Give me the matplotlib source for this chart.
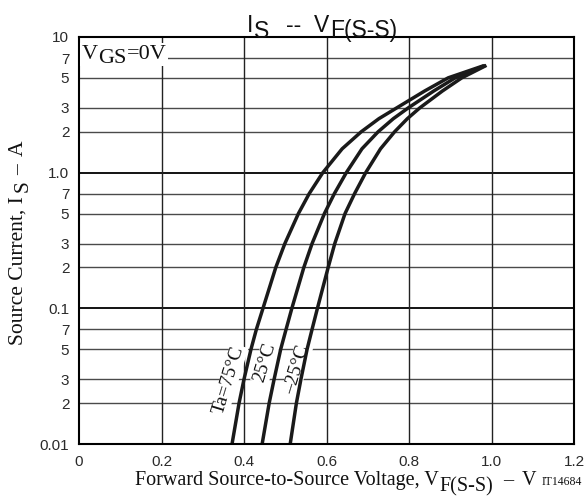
import matplotlib
matplotlib.use("Agg")
import matplotlib.pyplot as plt

# ---------------- data ----------------
v_75 = [0.371, 0.388, 0.400, 0.417, 0.430, 0.446, 0.477, 0.499, 0.532, 0.558, 0.591, 0.638, 0.684, 0.727, 0.770, 0.838, 0.895, 0.978]
i_75 = [0.01, 0.02, 0.03, 0.05, 0.07, 0.1, 0.2, 0.3, 0.5, 0.7, 1.0, 1.5, 2.0, 2.5, 3.0, 4.0, 5.0, 6.1]

v_25 = [0.444, 0.461, 0.473, 0.489, 0.502, 0.516, 0.545, 0.565, 0.595, 0.619, 0.648, 0.686, 0.725, 0.762, 0.798, 0.860, 0.912, 0.981]
i_25 = [0.01, 0.02, 0.03, 0.05, 0.07, 0.1, 0.2, 0.3, 0.5, 0.7, 1.0, 1.5, 2.0, 2.5, 3.0, 4.0, 5.0, 6.1]

v_m25 = [0.512, 0.527, 0.538, 0.553, 0.565, 0.578, 0.604, 0.620, 0.645, 0.668, 0.695, 0.731, 0.765, 0.796, 0.826, 0.881, 0.928, 0.984]
i_m25 = [0.01, 0.02, 0.03, 0.05, 0.07, 0.1, 0.2, 0.3, 0.5, 0.7, 1.0, 1.5, 2.0, 2.5, 3.0, 4.0, 5.0, 6.1]

curve_labels = ["Ta=75°C", "25°C", "\u201325°C"]
label_pos_v = [0.364, 0.451, 0.528]
label_pos_i = [0.0297, 0.0396, 0.0351]

x_ticks = [0, 0.2, 0.4, 0.6, 0.8, 1.0, 1.2]
x_tick_labels = ["0", "0.2", "0.4", "0.6", "0.8", "1.0", "1.2"]
y_ticks = [0.01, 0.02, 0.03, 0.05, 0.07, 0.1, 0.2, 0.3, 0.5, 0.7, 1, 2, 3, 5, 7, 10]
y_tick_labels = ["0.01", "2", "3", "5", "7", "0.1", "2", "3", "5", "7", "1.0", "2", "3", "5", "7", "10"]

# ---------------- figure ----------------
W, H = 584, 499
fig = plt.figure(figsize=(W / 100, H / 100), dpi=100)
L, R, T, B = 79, 574, 37, 444
ax = fig.add_axes([L / W, 1 - B / H, (R - L) / W, (B - T) / H])
ax.set_xlim(0, 1.2)
ax.set_yscale("log")
ax.set_ylim(0.01, 10)

sans = "Liberation Sans"
serif = "Liberation Serif"
ink = "#111111"

ax.set_xticks(x_ticks, x_tick_labels)
ax.set_yticks(y_ticks, y_tick_labels)
ax.minorticks_off()
ax.tick_params(axis="both", length=0, labelsize=11, labelcolor="#2a2a2a")
ax.tick_params(axis="x", pad=8)
ax.tick_params(axis="y", pad=7)
for lab in ax.get_xticklabels() + ax.get_yticklabels():
    lab.set_fontfamily(sans)

# grid lines
for yv in y_ticks[1:-1]:
    major = yv in (0.1, 1)
    ax.axhline(yv, color="black" if major else "#4a4a4a", lw=1.3 if major else 1.0, zorder=1)
for xv in x_ticks[1:-1]:
    ax.axvline(xv, color="#222222", lw=1.0, zorder=1)

for sp in ax.spines.values():
    sp.set_linewidth(1.5)
    sp.set_color("black")
    sp.set_zorder(5)

# curves
for v, i in [(v_75, i_75), (v_25, i_25), (v_m25, i_m25)]:
    ax.plot(v, i, color="#1a1a1a", lw=2.5, solid_joinstyle="round", zorder=4)

# curve labels
for txt, xv, yv in zip(curve_labels, label_pos_v, label_pos_i):
    ax.text(xv, yv, txt, rotation=73, rotation_mode="anchor", ha="center", va="center",
            fontsize=14, family=serif, color=ink, zorder=3,
            bbox=dict(facecolor="white", edgecolor="none", pad=0.5))

# ---------------- chained texts (full-size lowered subscripts) ----------------
fig.canvas.draw()
rend = fig.canvas.get_renderer()


def text_width(s, size, family):
    t = fig.text(0, 0, s, fontsize=size, family=family)
    w = t.get_window_extent(rend).width
    t.remove()
    return w


def chain(pieces, x0, y0, size, family, color=ink, bbox=None, zorder=3):
    pos = x0
    for s, d, gap in pieces:
        pos += gap
        fig.text(pos / W, 1 - (y0 + d) / H, s, ha="left", va="baseline",
                 fontsize=size, family=family, color=color, bbox=bbox, zorder=zorder)
        pos += text_width(s, size, family)


def chain_up(pieces, x0, y0, size, family, color=ink):
    pos = y0
    for s, d, gap in pieces:
        pos -= gap
        fig.text((x0 + d) / W, 1 - pos / H, s, ha="left", va="baseline",
                 rotation=90, rotation_mode="anchor",
                 fontsize=size, family=family, color=color)
        pos -= text_width(s, size, family)


# title
chain([("I", 0, 0), ("S", 5.5, 1), ("--", 0, 16), ("V", 0, 13), ("F(S-S)", 5.5, 1)],
      247, 32, 16.5, sans)

# x label
chain([("Forward Source-to-Source Voltage, V", 0, 0), ("F(S-S)", 6, 1), ("\u2013", 0, 10), ("V", 0, 8)],
      135, 485, 14.5, serif)
fig.text(582 / W, 1 - 485 / H, "IT14684", ha="right", va="baseline", fontsize=8.5,
         family=serif, color=ink)

# y label (reads bottom to top)
chain_up([("Source Current, I", 0, 0), ("S", 5, 4), ("\u2013", 0, 5), ("A", 0, 9)],
         23, 345, 15.5, serif)

# VGS label
chain([("V", 0, 0), ("GS", 4, 0), ("=0V", 0, 0)], 82, 59, 16, serif,
      bbox=dict(facecolor="white", edgecolor="none", pad=1.5), zorder=6)

fig.savefig("out.png", dpi=100)
